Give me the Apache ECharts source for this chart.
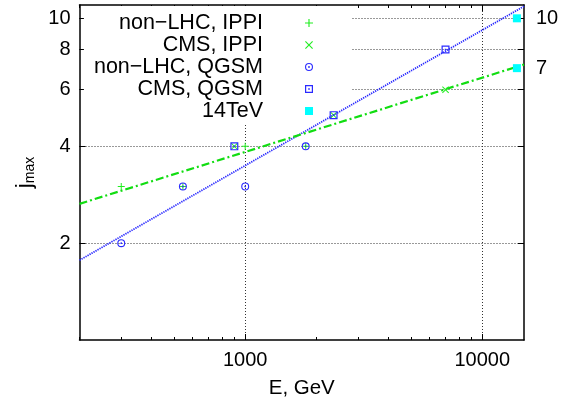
<!DOCTYPE html>
<html><head><meta charset="utf-8">
<script src="https://cdn.jsdelivr.net/npm/echarts@6/dist/echarts.min.js"></script>
<style>html,body{margin:0;padding:0;background:#fff}#c{width:576px;height:404px}</style>
</head><body><div id="c"></div>
<script>
// ---- data ----
const xMinorTicks = [200,300,400,500,600,700,800,900,2000,3000,4000,5000,6000,7000,8000,9000];
const xMajorTicks = [1000,10000];
const yTicks = [2,4,6,8,10];
const y2Labels = [7,10];

const seriesNames = ['non−LHC, IPPI','CMS, IPPI','non−LHC, QGSM','CMS, QGSM','14TeV'];
const nonLhcIppi = [[300,3],[546,3],[1000,4],[1800,4]];
const cmsIppi = [[900,4],[2360,5],[7000,6]];
const nonLhcQgsm = [[300,2],[546,3],[1000,3],[1800,4]];
const cmsQgsm = [[900,4],[2360,5],[7000,8]];
const tev14 = [[14000,10],[14000,7]];
const fitE = [200, 15000];
const qgsmFit = [1.77, 10.9];
const ippiFit = [2.65, 7.18];

// ---- styles ----
const FONT = "'Liberation Sans', Arial, Helvetica, sans-serif";
const GREEN = '#22ee22', BLUE = '#2a2aff', CYAN = '#00ffff';
const SYM_PLUS = 'path://M3,0H4V3H7V4H4V7H3V4H0V3H3Z';
const SYM_CROSS = 'path://M0,0.7L0.7,0L3.5,2.8L6.3,0L7,0.7L4.2,3.5L7,6.3L6.3,7L3.5,4.2L0.7,7L0,6.3L2.8,3.5Z';
const SYM_OCIRC = 'path://M0,-4A4,4,0,1,1,0,4A4,4,0,1,1,0,-4ZM0,-2.9A2.9,2.9,0,1,0,0,2.9A2.9,2.9,0,1,0,0,-2.9ZM0,-0.9A0.9,0.9,0,1,1,0,0.9A0.9,0.9,0,1,1,0,-0.9Z';
const SYM_OSQ = 'path://M0,0H8V8H0ZM1.2,1.2V6.8H6.8V1.2ZM3.2,3.2H4.8V4.8H3.2Z';
const SYM_FSQ = 'path://M0,0H8V8H0Z';

const pair = (xs, ys) => xs.map((x, i) => [x, ys[i]]);
const fmt = v => String(Math.round(v));
const gridLine = {show: true, lineStyle: {color: '#333', width: 1, type: [1, 2]}};
const axLine = {show: true, lineStyle: {color: '#000', width: 1.5}};

function xAx(pos, ticks, len, opts) {
  return Object.assign({
    type: 'log', logBase: 10, min: 200, max: 15000, position: pos, gridIndex: 0,
    axisLine: {show: false},
    axisTick: {show: true, inside: true, length: len, customValues: ticks, lineStyle: {color: '#000', width: 1}},
    axisLabel: {show: false},
    splitLine: {show: false}
  }, opts || {});
}

const chart = echarts.init(document.getElementById('c'), null, {renderer: 'canvas'});
chart.setOption({
  animation: false,
  backgroundColor: '#fff',
  textStyle: {fontFamily: FONT},
  grid: {left: 79.5, top: 5, width: 444.5, height: 337, containLabel: false},
  legend: {
    data: seriesNames,
    orient: 'vertical', align: 'right',
    right: 225, top: 6,
    padding: [6, 38, 3, 10],
    backgroundColor: '#fff',
    itemWidth: 8, itemHeight: 8, itemGap: 0,
    textStyle: {fontFamily: FONT, fontSize: 21.5, color: '#000', lineHeight: 22, padding: [0, 37, 0, 0]}
  },
  xAxis: [
    xAx('bottom', xMajorTicks, 6, {
      axisLine: axLine,
      axisLabel: {show: true, customValues: xMajorTicks, formatter: fmt, fontFamily: FONT, fontSize: 20, color: '#000', margin: 10},
      splitLine: gridLine,
      name: 'E, GeV', nameLocation: 'middle', nameGap: 38,
      nameTextStyle: {fontFamily: FONT, fontSize: 20.5, color: '#000'}
    }),
    xAx('bottom', xMinorTicks, 3),
    xAx('top', xMajorTicks, 6, {axisLine: axLine}),
    xAx('top', xMinorTicks, 3)
  ],
  yAxis: [
    {
      type: 'log', logBase: 10, min: 1, max: 11, position: 'left',
      axisLine: axLine,
      axisTick: {show: true, inside: true, length: 6, customValues: yTicks, lineStyle: {color: '#000', width: 1}},
      axisLabel: {show: true, customValues: yTicks, formatter: fmt, fontFamily: FONT, fontSize: 20, color: '#000', margin: 9},
      splitLine: gridLine,
      name: '{j|j}{s|max}', nameLocation: 'middle', nameGap: 41, nameRotate: 90,
      nameTextStyle: {rich: {
        j: {fontFamily: FONT, fontSize: 22, color: '#000'},
        s: {fontFamily: FONT, fontSize: 14, color: '#000', padding: [10, 0, 0, 0]}
      }}
    },
    {
      type: 'log', logBase: 10, min: 1, max: 11, position: 'right',
      axisLine: axLine,
      axisTick: {show: true, inside: true, length: 6, customValues: yTicks, lineStyle: {color: '#000', width: 1}},
      axisLabel: {show: true, customValues: y2Labels, formatter: fmt, fontFamily: FONT, fontSize: 20, color: '#000', margin: 12},
      splitLine: {show: false}
    }
  ],
  series: [
    {type: 'line', name: 'QGSM fit', data: pair(fitE, qgsmFit), showSymbol: false, symbol: 'none', z: 5,
     lineStyle: {color: BLUE, width: 1.8, type: [1.3, 1]}, silent: true},
    {type: 'line', name: 'IPPI fit', data: pair(fitE, ippiFit), showSymbol: false, symbol: 'none', z: 5,
     lineStyle: {color: '#11dd11', width: 2.2, type: [8, 3, 2, 3]}, silent: true},
    {type: 'scatter', name: seriesNames[0], data: nonLhcIppi, symbol: SYM_PLUS, symbolSize: 7, symbolKeepAspect: true, z: 6, itemStyle: {color: GREEN, opacity: 1}},
    {type: 'scatter', name: seriesNames[1], data: cmsIppi, symbol: SYM_CROSS, symbolSize: 7, symbolKeepAspect: true, z: 6, itemStyle: {color: GREEN, opacity: 1}},
    {type: 'scatter', name: seriesNames[2], data: nonLhcQgsm, symbol: SYM_OCIRC, symbolSize: 8, symbolKeepAspect: true, z: 7, itemStyle: {color: BLUE, opacity: 1}},
    {type: 'scatter', name: seriesNames[3], data: cmsQgsm, symbol: SYM_OSQ, symbolSize: 8, symbolKeepAspect: true, z: 7, itemStyle: {color: BLUE, opacity: 1}},
    {type: 'scatter', name: seriesNames[4], data: tev14, symbol: SYM_FSQ, symbolSize: 8, symbolKeepAspect: true, z: 7, itemStyle: {color: CYAN, opacity: 1}}
  ]
});
</script></body></html>
